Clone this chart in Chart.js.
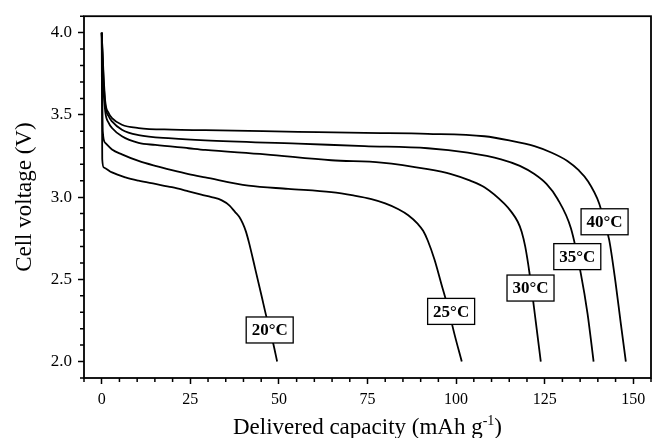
<!DOCTYPE html>
<html lang="en">
<head>
<meta charset="UTF-8">
<title>Discharge curves vs temperature</title>
<script src="https://cdn.jsdelivr.net/npm/chart.js"></script>
<style>
    html, body { margin: 0; padding: 0; background: #ffffff; overflow: hidden; }
    .wrap { width: 657px; height: 438px; position: relative; }
</style>
</head>
<body>
<div class="wrap"><canvas id="chart"></canvas></div>
<script>
    // discharge curves (capacity in mAh/g, voltage in V)
    const cap20 = [0, 0.15, 0.6, 2.9, 6.7, 10.4, 15.1, 19.8, 24.5, 28.1, 31, 33.9, 36, 37.6, 38.8, 39.8, 40.7, 41.6, 43.3, 45.1, 46.5, 48.4, 49.5];
    const volt20 = [4.0, 3.23, 3.18, 3.15, 3.12, 3.10, 3.08, 3.06, 3.035, 3.015, 3.0, 2.98, 2.95, 2.91, 2.88, 2.84, 2.79, 2.72, 2.565, 2.40, 2.27, 2.11, 2.0];

    const cap25 = [0, 0.15, 0.3, 1.0, 2.9, 5.7, 10.4, 15.1, 19.8, 24.5, 29.2, 41.4, 52.6, 64.8, 71, 76.1, 80, 83.6, 86.5, 89.2, 90.7, 92.0, 93.9, 95.8, 97.7, 99.5, 101.6];
    const volt25 = [4.0, 3.65, 3.40, 3.33, 3.29, 3.26, 3.22, 3.19, 3.164, 3.14, 3.12, 3.07, 3.05, 3.03, 3.01, 2.988, 2.962, 2.928, 2.89, 2.837, 2.795, 2.736, 2.62, 2.475, 2.33, 2.17, 2.0];

    const cap30 = [0, 0.4, 1.0, 2.0, 2.9, 5.7, 10.4, 15.1, 24.5, 29.2, 46.1, 64.8, 78.9, 92.0, 98.6, 104, 108, 113.6, 115.6, 117.4, 118.5, 119.5, 120.7, 122.5, 123.9];
    const volt30 = [4.0, 3.70, 3.52, 3.45, 3.42, 3.37, 3.33, 3.317, 3.297, 3.287, 3.26, 3.224, 3.21, 3.17, 3.14, 3.10, 3.06, 2.96, 2.91, 2.85, 2.79, 2.70, 2.54, 2.24, 2.0];

    const cap35 = [0, 0.5, 1.0, 2.0, 2.9, 5.7, 10.4, 19.8, 29.2, 55.4, 74.2, 92.0, 103.3, 112.7, 118, 122.1, 125.5, 128.6, 132.4, 135.2, 137.1, 138.8];
    const volt35 = [4.0, 3.72, 3.56, 3.49, 3.46, 3.41, 3.377, 3.357, 3.345, 3.325, 3.31, 3.297, 3.27, 3.23, 3.19, 3.14, 3.08, 2.99, 2.81, 2.535, 2.29, 2.0];

    const cap40 = [0, 0.5, 1.0, 2.0, 2.9, 5.7, 10.4, 19.8, 29.2, 55.4, 74.2, 92.0, 108, 115, 122.1, 127, 131.4, 134.5, 137.1, 140.4, 143.2, 145.0, 146.4, 147.9];
    const volt40 = [4.0, 3.75, 3.58, 3.51, 3.48, 3.44, 3.42, 3.41, 3.407, 3.397, 3.39, 3.385, 3.37, 3.345, 3.31, 3.27, 3.22, 3.165, 3.10, 2.96, 2.74, 2.48, 2.245, 2.0];

    // boxed temperature labels, anchored in data units
    const labelText = ['20°C', '25°C', '30°C', '35°C', '40°C'];
    const labelCap = [47.4, 98.6, 121.0, 134.2, 141.9];
    const labelVolt = [2.192, 2.305, 2.447, 2.638, 2.85];

    const serif = "'Liberation Serif', 'Times New Roman', serif";

    function toPoints(xs, ys) {
        return xs.map((x, i) => ({ x: x, y: ys[i] }));
    }

    function lineSet(xs, ys) {
        return {
            data: toPoints(xs, ys),
            borderColor: '#000000',
            borderWidth: 1.8,
            pointRadius: 0,
            tension: 0.4,
            cubicInterpolationMode: 'monotone',
            fill: false
        };
    }

    const isMajorY = v => Math.round(v * 10) % 5 === 0;
    const isMajorX = v => Math.round(v) % 25 === 0 && v >= 0 && v <= 150;

    // frame, minor ticks, boxed labels and x title
    const extras = {
        id: 'extras',
        afterDatasetsDraw(chart) {
            const ctx = chart.ctx;
            const xs = chart.scales.x, ys = chart.scales.y;
            ctx.save();
            ctx.font = 'bold 17px ' + serif;
            ctx.textAlign = 'center';
            ctx.textBaseline = 'middle';
            labelText.forEach((t, i) => {
                const cx = xs.getPixelForValue(labelCap[i]);
                const cy = ys.getPixelForValue(labelVolt[i]);
                const w = 47, h = 26;
                ctx.fillStyle = '#ffffff';
                ctx.fillRect(cx - w / 2, cy - h / 2, w, h);
                ctx.strokeStyle = '#000000';
                ctx.lineWidth = 1.3;
                ctx.strokeRect(cx - w / 2, cy - h / 2, w, h);
                ctx.fillStyle = '#000000';
                ctx.fillText(t, cx, cy + 1);
            });
            ctx.restore();
        },
        afterDraw(chart) {
            const ctx = chart.ctx;
            const a = chart.chartArea;
            const xs = chart.scales.x, ys = chart.scales.y;
            ctx.save();
            ctx.strokeStyle = '#000000';
            ctx.lineWidth = 1.8;
            ctx.strokeRect(a.left, a.top, a.right - a.left, a.bottom - a.top);

            // minor ticks, shorter than the major ones
            ctx.lineWidth = 1.5;
            ctx.beginPath();
            xs.ticks.forEach(t => {
                if (isMajorX(t.value)) return;
                const px = xs.getPixelForValue(t.value);
                ctx.moveTo(px, a.bottom);
                ctx.lineTo(px, a.bottom + 4);
            });
            ys.ticks.forEach(t => {
                if (isMajorY(t.value)) return;
                const py = ys.getPixelForValue(t.value);
                ctx.moveTo(a.left, py);
                ctx.lineTo(a.left - 4, py);
            });
            ctx.stroke();

            // x title with superscript
            const main = 'Delivered capacity (mAh g';
            const sup = '-1';
            const tail = ')';
            ctx.fillStyle = '#000000';
            ctx.textBaseline = 'alphabetic';
            ctx.font = '23px ' + serif;
            const w1 = ctx.measureText(main).width;
            const w3 = ctx.measureText(tail).width;
            ctx.font = '14px ' + serif;
            const w2 = ctx.measureText(sup).width;
            const total = w1 + w2 + w3;
            let x = (a.left + a.right) / 2 - total / 2;
            const base = 434;
            ctx.textAlign = 'left';
            ctx.font = '23px ' + serif;
            ctx.fillText(main, x, base);
            x += w1;
            ctx.font = '14px ' + serif;
            ctx.fillText(sup, x, base - 9);
            x += w2;
            ctx.font = '23px ' + serif;
            ctx.fillText(tail, x, base);
            ctx.restore();
        }
    };

    new Chart(document.getElementById('chart'), {
        type: 'line',
        data: {
            datasets: [
                lineSet(cap20, volt20),
                lineSet(cap25, volt25),
                lineSet(cap30, volt30),
                lineSet(cap35, volt35),
                lineSet(cap40, volt40)
            ]
        },
        options: {
            responsive: true,
            maintainAspectRatio: false,
            animation: false,
            layout: { padding: { top: 13, right: 0, left: 0, bottom: 0 } },
            plugins: {
                legend: { display: false },
                tooltip: { enabled: false }
            },
            scales: {
                x: {
                    type: 'linear',
                    min: -5,
                    max: 155,
                    afterFit: s => { s.height = 60; },
                    border: { display: false },
                    grid: {
                        drawOnChartArea: false,
                        tickLength: 6,
                        tickWidth: 1.5,
                        tickColor: c => isMajorX(c.tick.value) ? '#000000' : 'rgba(0,0,0,0)'
                    },
                    ticks: {
                        stepSize: 5,
                        autoSkip: false,
                        maxRotation: 0,
                        padding: 6,
                        color: '#000000',
                        font: { family: serif, size: 16 },
                        callback: v => isMajorX(v) ? String(Math.round(v)) : ''
                    }
                },
                y: {
                    type: 'linear',
                    min: 1.9,
                    max: 4.1,
                    afterFit: s => { s.width = 84; },
                    border: { display: false },
                    grid: {
                        drawOnChartArea: false,
                        tickLength: 6,
                        tickWidth: 1.5,
                        tickColor: c => isMajorY(c.tick.value) ? '#000000' : 'rgba(0,0,0,0)'
                    },
                    ticks: {
                        stepSize: 0.1,
                        autoSkip: false,
                        padding: 6,
                        color: '#000000',
                        font: { family: serif, size: 17 },
                        callback: v => isMajorY(v) ? v.toFixed(1) : ''
                    },
                    title: {
                        display: true,
                        text: 'Cell voltage (V)',
                        color: '#000000',
                        font: { family: serif, size: 23, lineHeight: 1.2 },
                        padding: { top: 11, bottom: 0 }
                    }
                }
            }
        },
        plugins: [extras]
    });
</script>
</body>
</html>
